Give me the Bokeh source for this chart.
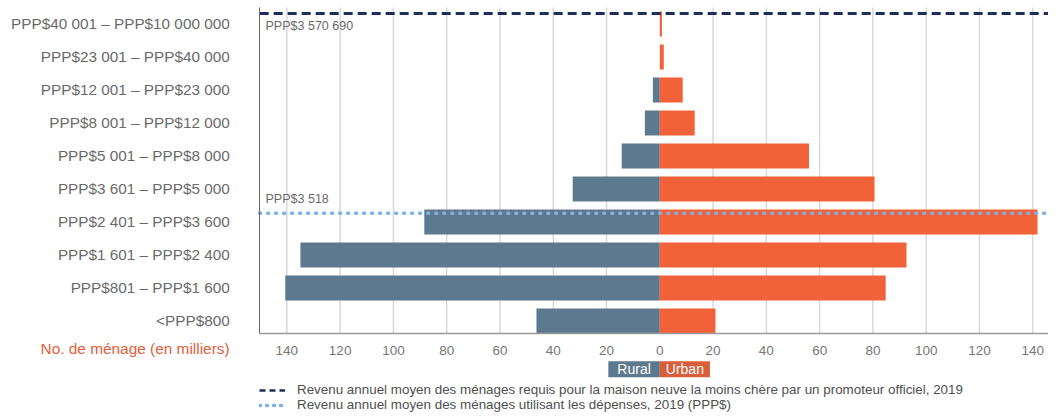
from bokeh.plotting import figure
from bokeh.models import (ColumnDataSource, FixedTicker, Label, Legend, LegendItem, Range1d)
from bokeh.embed import file_html
from bokeh.resources import INLINE

# ---- data ----
categories = [
    "<PPP$800",
    "PPP$801 – PPP$1 600",
    "PPP$1 601 – PPP$2 400",
    "PPP$2 401 – PPP$3 600",
    "PPP$3 601 – PPP$5 000",
    "PPP$5 001 – PPP$8 000",
    "PPP$8 001 – PPP$12 000",
    "PPP$12 001 – PPP$23 000",
    "PPP$23 001 – PPP$40 000",
    "PPP$40 001 – PPP$10 000 000",
]
rural = [46.3, 140.6, 134.9, 88.4, 32.7, 14.3, 5.6, 2.6, 0, 0]
urban = [20.9, 84.8, 92.6, 141.8, 80.6, 56.0, 13.1, 8.6, 1.5, 0.8]
x_ticks = [-140, -120, -100, -80, -60, -40, -20, 0, 20, 40, 60, 80, 100, 120, 140]
legend_labels = [
    "Revenu annuel moyen des ménages requis pour la maison neuve la moins chère par un promoteur officiel, 2019",
    "Revenu annuel moyen des ménages utilisant les dépenses, 2019 (PPP$)",
]
marker_labels = ["PPP$3 570 690", "PPP$3 518"]
axis_title = "No. de ménage (en milliers)"
series_names = ["Rural", "Urban"]

# ---- layout constants (positions / styles) ----
FONT = "'Liberation Sans', Arial, sans-serif"
RURAL_C = "#5d798e"
URBAN_C = "#f26238"
GRAY = "#6a6a6a"
DASH_C = "#1f2d5e"
DOT_C = "#7fb0e2"
W, H = 1048, 412
X_LEFT = -150.2          # where the plotting area begins (data units)
Y_BOTTOM = -0.379        # the x-axis line (data units)
Y_TOP = 9.5              # top of the grid area
DASH_Y = 9.318
DOT_Y = 3.266
NAN = float("nan")

idx = list(range(len(categories)))
src = ColumnDataSource(dict(
    y=idx,
    rural_left=[-v for v in rural],
    zero=[0] * len(idx),
    urban_right=urban,
))

p = figure(width=W, height=H, output_backend="svg", toolbar_location=None,
           x_range=Range1d(-247.49, 145.91), y_range=Range1d(-2.773, 9.712),
           min_border_left=0, min_border_right=0, min_border_top=0, min_border_bottom=0)
p.outline_line_color = None
p.background_fill_color = "white"
p.grid.visible = False

X_RIGHT = p.x_range.end

# vertical grid lines at the tick positions (none at zero)
grid_ticks = [t for t in x_ticks if t != 0]
p.segment(x0=grid_ticks, x1=grid_ticks, y0=[Y_BOTTOM] * len(grid_ticks),
          y1=[Y_TOP] * len(grid_ticks), line_color="#d9d9d9", line_width=1.5)

p.hbar(y="y", left="rural_left", right="zero", height=0.758, source=src,
       fill_color=RURAL_C, line_color=None)
p.hbar(y="y", left="zero", right="urban_right", height=0.758, source=src,
       fill_color=URBAN_C, line_color=None)

# axes placed at fixed locations inside the drawing area
p.xaxis.fixed_location = Y_BOTTOM
p.xaxis.bounds = (X_LEFT, X_RIGHT)
p.xaxis.ticker = FixedTicker(ticks=x_ticks)
p.xaxis.major_label_overrides = {t: str(abs(t)) for t in x_ticks}
p.xaxis.major_tick_in = 0
p.xaxis.major_tick_out = 0
p.xaxis.minor_tick_line_color = None
p.xaxis.axis_line_color = "#9a9a9a"
p.xaxis.axis_line_width = 1.5
p.xaxis.major_label_text_font = FONT
p.xaxis.major_label_text_font_size = "13.5px"
p.xaxis.major_label_text_color = "#777777"
p.xaxis.major_label_standoff = 13

p.yaxis.fixed_location = X_LEFT
p.yaxis.bounds = (Y_BOTTOM, Y_TOP)
p.yaxis.ticker = FixedTicker(ticks=idx)
p.yaxis.major_label_overrides = {i: c for i, c in zip(idx, categories)}
p.yaxis.major_tick_in = 0
p.yaxis.major_tick_out = 0
p.yaxis.minor_tick_line_color = None
p.yaxis.axis_line_color = "#666666"
p.yaxis.axis_line_width = 1
p.yaxis.major_label_text_font = FONT
p.yaxis.major_label_text_font_size = "15.3px"
p.yaxis.major_label_text_color = GRAY
p.yaxis.major_label_standoff = 30

# reference lines
p.segment(x0=[X_LEFT], x1=[X_RIGHT], y0=[DASH_Y], y1=[DASH_Y],
          line_color=DASH_C, line_width=3, line_dash="9 5")
p.segment(x0=[X_LEFT], x1=[X_RIGHT], y0=[DOT_Y], y1=[DOT_Y],
          line_color=DOT_C, line_width=3.5, line_dash="1 7", line_cap="round")

p.add_layout(Label(x=X_LEFT + 2.2, y=8.939, text=marker_labels[0], text_font=FONT,
                   text_font_size="12.5px", text_color=GRAY, text_baseline="middle"))
p.add_layout(Label(x=X_LEFT + 2.2, y=3.703, text=marker_labels[1], text_font=FONT,
                   text_font_size="12.5px", text_color=GRAY, text_baseline="middle"))

p.add_layout(Label(x=-161.5, y=-0.834, text=axis_title, text_font=FONT,
                   text_font_size="15.4px", text_color="#e2603c", text_align="right",
                   text_baseline="middle"))

# Rural / Urban tags
p.add_layout(Label(x=0, y=-1.218, text=series_names[0], text_font=FONT, text_font_size="14px",
                   text_color="white", anchor="top_right", background_fill_color=RURAL_C,
                   padding=dict(left=9, right=9, top=0, bottom=0)))
p.add_layout(Label(x=0, y=-1.218, text=series_names[1], text_font=FONT, text_font_size="14px",
                   text_color="white", anchor="top_left", background_fill_color="#d95f3c",
                   padding=dict(left=6, right=6, top=0, bottom=0)))

# legend (sample glyphs only; their single point is not drawn)
r1 = p.line(x=[NAN], y=[NAN], line_color=DASH_C, line_width=2.5, line_dash="6 4")
r2 = p.line(x=[NAN], y=[NAN], line_color=DOT_C, line_width=3.5, line_dash="1 6",
            line_cap="round")
legend = Legend(items=[LegendItem(label=legend_labels[0], renderers=[r1]),
                       LegendItem(label=legend_labels[1], renderers=[r2])],
                location=(259, 0), orientation="vertical")
legend.padding = 0
legend.margin = 0
legend.spacing = 0
legend.border_line_color = None
legend.background_fill_alpha = 0
legend.glyph_width = 26
legend.glyph_height = 14
legend.label_height = 14
legend.label_standoff = 12
legend.label_text_font = FONT
legend.label_text_font_size = "13.4px"
legend.label_text_color = "#4f4f4f"
p.add_layout(legend)

open("out.html", "w").write(file_html(p, INLINE))
